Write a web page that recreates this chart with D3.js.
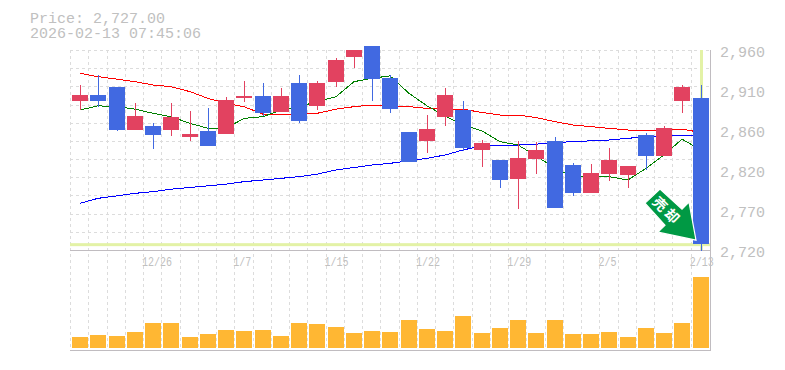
<!DOCTYPE html>
<html>
<head>
<meta charset="utf-8">
<script src="https://cdn.jsdelivr.net/npm/d3@7/dist/d3.min.js"></script>
<style>
  html, body { margin: 0; padding: 0; background: #fff; }
  text { font-family: "Liberation Mono", monospace; fill: #c0c0c0; }
</style>
</head>
<body>
<div id="chart"></div>
<script>
//************* data ***************/
var dates = ["12/22","12/23","12/24","12/25","12/26","12/29","12/30","1/5","1/6","1/7",
  "1/8","1/9","1/13","1/14","1/15","1/16","1/19","1/20","1/21","1/22",
  "1/23","1/26","1/27","1/28","1/29","1/30","2/2","2/3","2/4","2/5",
  "2/6","2/9","2/10","2/12","2/13"];
var opens = [2899,2906,2916,2864,2869,2864,2856,2863,2859,2902,
  2905,2886,2920,2893,2922,2952,2965,2926,2862,2851,
  2880,2888,2840,2828,2805,2829,2851,2822,2788,2811,
  2810,2858,2833,2899,2902];
var closes = [2906,2899,2864,2881,2858,2880,2859,2845,2900,2905,
  2884,2905,2875,2920,2948,2960,2925,2889,2826,2865,
  2906,2842,2848,2804,2830,2840,2770,2788,2812,2828,
  2821,2833,2866,2916,2727];
var highs = [2918,2930,2916,2896,2872,2896,2887,2890,2904,2923,
  2920,2914,2930,2923,2950,2960,2965,2930,2862,2882,
  2914,2899,2852,2828,2851,2850,2856,2824,2823,2842,
  2821,2860,2869,2918,2918];
var lows = [2888,2892,2863,2864,2841,2857,2851,2845,2859,2898,
  2881,2886,2872,2888,2916,2938,2899,2884,2826,2836,
  2869,2839,2820,2794,2769,2811,2770,2785,2788,2803,
  2794,2816,2833,2884,2719];
var volumes = [11,13,12,16,25,25,11,14,18,17,18,12,25,24,21,15,17,16,
  28,19,17,32,15,20,28,15,28,14,14,16,11,20,15,25,71];
var maShort = [2888,2893,2892,2889,2884,2880,2872,2866,2866,2878,
  2880,2888,2892,2898,2904,2922,2926,2929,2908,2893,
  2881,2870,2863,2850,2846,2833,2818,2808,2809,2808,
  2804,2818,2834,2853,2840];
var maMid = [2932,2928,2925,2922,2918,2916,2910,2902,2896,2892,
  2883,2882,2883,2884,2889,2892,2894,2892,2892,2890,
  2889,2889,2885,2882,2882,2879,2874,2870,2868,2866,
  2864,2864,2864,2865,2861];
var maLong = [2776,2782,2785,2788,2790,2793,2795,2797,2799,2802,
  2804,2806,2808,2811,2816,2819,2822,2824,2827,2830,
  2834,2840,2845,2846,2846,2847,2849,2850,2851,2852,
  2854,2856,2857,2858,2858];
var priceTicks = [2960,2912,2864,2816,2768,2720];
var dateTicks = ["12/26","1/7","1/15","1/22","1/29","2/5","2/13"];
var lastPrice = 2727;

//************* setup svg ***************/
var width = 785, height = 370;
var svg = d3.select("#chart").append("svg")
    .attr("width", width)
    .attr("height", height)
    .style("display", "block");

//************* scales ***************/
var x = d3.scaleBand().domain(dates).range([70, 709]);
var y = d3.scaleLinear().domain([2720, 2960]).range([250, 50]);
var yVol = d3.scaleLinear().domain([0, 71]).range([348, 277]);
var px = function(d){ return Math.round(x(d)); };

//***************** grid *******************/
var gridColor = "#dcdcdc";
var grid = svg.append("g").attr("shape-rendering", "crispEdges");
dates.forEach(function(d){
  grid.append("line")
    .attr("x1", px(d) + 0.5).attr("x2", px(d) + 0.5)
    .attr("y1", 50).attr("y2", 350)
    .attr("stroke", gridColor).attr("stroke-dasharray", "3,3");
});
d3.range(0, 11).forEach(function(k){
  grid.append("line")
    .attr("x1", 70).attr("x2", 710)
    .attr("y1", Math.round(y(2960 - k * 240 / 11)) + 0.5)
    .attr("y2", Math.round(y(2960 - k * 240 / 11)) + 0.5)
    .attr("stroke", gridColor).attr("stroke-dasharray", "3,3");
});

// last price marker
var lastX = px("2/13") + 10;
svg.append("rect").attr("x", 70).attr("width", 640)
  .attr("y", y(lastPrice) - 1).attr("height", 3).attr("fill", "#e3f2a6");
svg.append("rect").attr("x", lastX - 1).attr("width", 3)
  .attr("y", 50).attr("height", 200).attr("fill", "#e3f2a6");

//***************** frame *******************/
var frame = svg.append("g").attr("stroke", "#c0bcc0").attr("shape-rendering", "crispEdges");
frame.append("line").attr("x1", 70).attr("x2", 710).attr("y1", 250.5).attr("y2", 250.5);
frame.append("line").attr("x1", 70).attr("x2", 710).attr("y1", 350.5).attr("y2", 350.5);
frame.append("line").attr("x1", 710.5).attr("x2", 710.5).attr("y1", 50).attr("y2", 351);

//***************** moving averages *******************/
var line = d3.line()
  .x(function(d, i){ return px(dates[i]) + 10; })
  .y(function(d){ return y(d); });
[[maLong, "#0000ff"], [maMid, "#ff0000"], [maShort, "#008000"]].forEach(function(s){
  svg.append("path")
    .attr("d", line(s[0]))
    .attr("fill", "none")
    .attr("stroke", s[1])
    .attr("stroke-width", 1)
    .attr("shape-rendering", "crispEdges");
});

//***************** candles *******************/
var upColor = "#e24260", downColor = "#4169e1";
var candles = svg.selectAll(".candle").data(dates).enter()
  .append("g").attr("class", "candle").attr("shape-rendering", "crispEdges");
candles.append("rect")
  .attr("x", function(d){ return px(d) + 10; })
  .attr("width", 1)
  .attr("y", function(d, i){ return y(highs[i]); })
  .attr("height", function(d, i){ return y(lows[i]) - y(highs[i]); })
  .attr("fill", function(d, i){ return closes[i] >= opens[i] ? upColor : downColor; });
candles.append("rect")
  .attr("x", function(d){ return px(d) + 2; })
  .attr("width", 16)
  .attr("y", function(d, i){ return y(Math.max(opens[i], closes[i])); })
  .attr("height", function(d, i){ return Math.abs(y(opens[i]) - y(closes[i])); })
  .attr("fill", function(d, i){ return closes[i] >= opens[i] ? upColor : downColor; });

//***************** volume *******************/
svg.selectAll(".vol").data(volumes).enter()
  .append("rect")
    .attr("class", "vol")
    .attr("x", function(d, i){ return px(dates[i]) + 2; })
    .attr("width", 16)
    .attr("y", function(d){ return yVol(d); })
    .attr("height", function(d){ return yVol(0) - yVol(d); })
    .attr("fill", "#ffb733")
    .attr("shape-rendering", "crispEdges");

//***************** axes *******************/
var yAxis = d3.axisRight(y)
  .tickValues(priceTicks)
  .tickSize(0)
  .tickPadding(10)
  .tickFormat(function(d){ return d3.format(",")(Math.round(d / 10) * 10); });
var yG = svg.append("g").attr("transform", "translate(710,2)").call(yAxis);
yG.select(".domain").remove();
yG.selectAll("text").style("font-size", "15px").style("font-family", "'Liberation Mono', monospace").style("fill", "#c0c0c0");

var xAxis = d3.axisBottom(x).tickValues(dateTicks).tickSize(0);
var xG = svg.append("g").attr("transform", "translate(0,250)").call(xAxis);
xG.select(".domain").remove();
xG.selectAll("text")
  .attr("y", 16)
  .attr("dy", 0)
  .attr("x", -x.bandwidth() / 2 - 1)
  .attr("textLength", function(d){ return d.length * 6; })
  .attr("lengthAdjust", "spacingAndGlyphs")
  .style("text-anchor", "start")
  .style("font-size", "12px")
  .style("font-family", "'Liberation Mono', monospace")
  .style("fill", "#c0c0c0");

//***************** arrow *******************/
var arrow = svg.append("g")
  .attr("transform", "translate(" + (lastX - 5) + "," + (y(lastPrice) - 4) + ")");
arrow.append("polygon")
  .attr("points", "-36,-51 -14,-31 -7,-38 0,0 -38,-8 -31,-15 -51,-37")
  .attr("fill", "#009944")
  .attr("stroke", "#fff")
  .attr("stroke-width", 1.2);
arrow.append("text")
  .attr("transform", "translate(-29,-29) rotate(45)")
  .attr("text-anchor", "middle")
  .attr("dy", "0.36em")
  .attr("letter-spacing", "3px")
  .style("font-family", "'Noto Sans CJK JP', sans-serif")
  .style("font-size", "14px")
  .style("font-weight", "700")
  .style("fill", "#fff")
  .text("売却");

//***************** title *******************/
svg.append("text").attr("x", 30).attr("y", 23).style("font-size", "15px").text("Price: 2,727.00");
svg.append("text").attr("x", 30).attr("y", 38).style("font-size", "15px").text("2026-02-13 07:45:06");
</script>
</body>
</html>
